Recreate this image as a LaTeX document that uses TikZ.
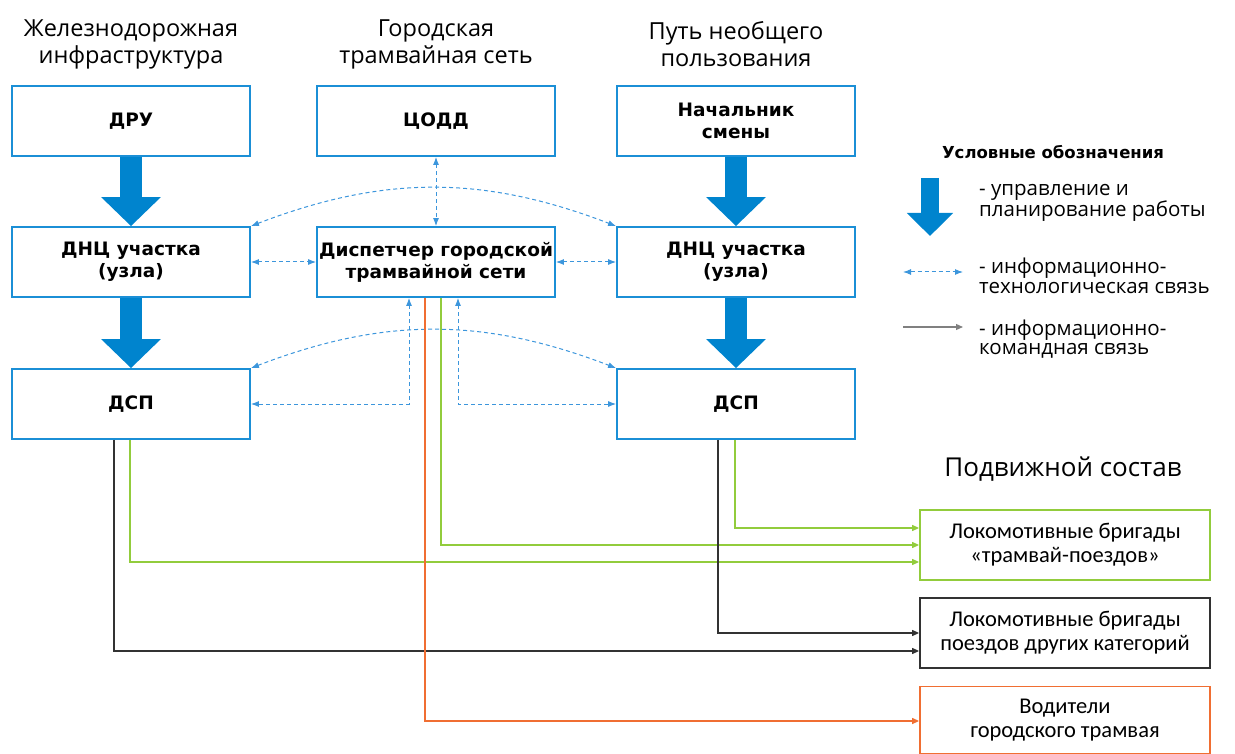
\documentclass[tikz,border=0pt]{standalone}
\usepackage{fontspec}
\setmainfont{Open Sans}
\newfontfamily\vfont{DejaVu Sans}
\newfontfamily\cfont{Carlito}
\usetikzlibrary{arrows.meta,calc}
\definecolor{boxblue}{RGB}{27,143,214}
\definecolor{arrblue}{RGB}{0,132,206}
\definecolor{dashblue}{RGB}{60,150,220}
\definecolor{lgreen}{RGB}{146,204,60}
\definecolor{lorange}{RGB}{240,110,50}
\definecolor{dgrey}{RGB}{50,50,50}
\tikzset{
  box/.style={draw=boxblue, line width=1.8pt, minimum width=238pt, minimum height=70pt, align=center,
    font=\vfont\bfseries\fontsize{18.5}{22}\selectfont, inner sep=0pt},
  crew/.style={line width=1.8pt, minimum width=290pt, minimum height=70pt, align=center,
    font=\cfont\fontsize{22.5}{24}\selectfont, inner sep=0pt},
  head/.style={align=center, font=\fontsize{23.5}{27}\selectfont},
  bigarr/.style={arrblue, line width=22pt, -{Triangle[width=58pt,length=29pt]}},
  dasharr/.style={draw=dashblue, line width=1pt, dash pattern=on 4pt off 3pt,
    {Latex[length=8pt,width=6pt]}-{Latex[length=8pt,width=6pt]}},
  conn/.style={line width=1.2pt, -{Triangle[length=7pt,width=6pt]}},
  legtext/.style={anchor=west, align=left, font=\fontsize{20.5}{19.5}\selectfont, inner sep=0pt}
}
\begin{document}
\begin{tikzpicture}[x=1pt,y=-1pt]
\useasboundingbox (0,0) rectangle (1235,754);
% headers
\node[head] (h1) at (131,44) {Железнодорожная\\инфраструктура};
\node[head] (h2) at (436,44) {Городская\\трамвайная сеть};
\node[head] (h3) at (736,44) {Путь необщего\\пользования};
% boxes
\node[box] (dru) at (131,121) {ДРУ};
\node[box] (codd) at (436,121) {ЦОДД};
\node[box] (nach) at (736,121) {Начальник\\смены};
\node[box] (dncl) at (131,262) {ДНЦ участка\\(узла)};
\node[box] (disp) at (436,262) {Диспетчер городской\\трамвайной сети};
\node[box] (dncr) at (736,262) {ДНЦ участка\\(узла)};
\node[box] (dspl) at (131,404) {ДСП};
\node[box] (dspr) at (736,404) {ДСП};
% big arrows
\draw[bigarr] (dru.south) -- (dncl.north);
\draw[bigarr] (dncl.south) -- (dspl.north);
\draw[bigarr] (nach.south) -- (dncr.north);
\draw[bigarr] (dncr.south) -- (dspr.north);
% dashed
\draw[dasharr] (codd.south) -- (disp.north);
\draw[dasharr] (dncl.north east) to[bend left=21] (dncr.north west);
\draw[dasharr] (dspl.north east) to[bend left=21] (dspr.north west);
\draw[dasharr] (dncl.east) -- (disp.west);
\draw[dasharr] (disp.east) -- (dncr.west);
\draw[dasharr] ([xshift=-27pt]disp.south) |- (dspl.east);
\draw[dasharr] ([xshift=22pt]disp.south) |- (dspr.west);
% rolling stock
\node[font=\fontsize{26}{30}\selectfont] (ps) at (1063,469) {Подвижной состав};
\node[crew, draw=lgreen] (gb) at (1065,545) {Локомотивные бригады\\«трамвай-поездов»};
\node[crew, draw=dgrey] (bb) at (1065,633) {Локомотивные бригады\\поездов других категорий};
\node[crew, draw=lorange, minimum height=67pt] (ob) at (1065,720) {Водители\\городского трамвая};
% connectors
\draw[conn, lgreen] ([xshift=-1pt]dspr.south) |- ([yshift=17pt]gb.west);
\draw[conn, lgreen] ([xshift=5pt]disp.south) |- (gb.west);
\draw[conn, lgreen] ([xshift=-1pt]dspl.south) |- ([yshift=-17pt]gb.west);
\draw[conn, dgrey] ([xshift=-18pt]dspr.south) |- (bb.west);
\draw[conn, dgrey] ([xshift=-17pt]dspl.south) |- ([yshift=-18pt]bb.west);
\draw[conn, lorange] ([xshift=-11pt]disp.south) |- ([yshift=-1pt]ob.west);
% legend
\node[font=\vfont\bfseries\fontsize{16.5}{18}\selectfont] (lt) at (1053,152) {Условные обозначения};
\coordinate (a1) at (930,178); \coordinate (a2) at (930,236);
\draw[arrblue, line width=18pt, -{Triangle[width=45pt,length=23pt]}] (a1) -- (a2);
\node[legtext] (t1) at (979,203) {- управление и\\планирование работы};
\coordinate (b1) at (903,272); \coordinate (b2) at (963,272);
\draw[dasharr] (b1) -- (b2);
\node[legtext] (t2) at (979,276) {- информационно-\\технологическая связь};
\coordinate (c1) at (903,327); \coordinate (c2) at (963,327);
\draw[conn, gray] (c1) -- (c2);
\node[legtext] (t3) at (979,339) {- информационно-\\командная связь};
\end{tikzpicture}
\end{document}
